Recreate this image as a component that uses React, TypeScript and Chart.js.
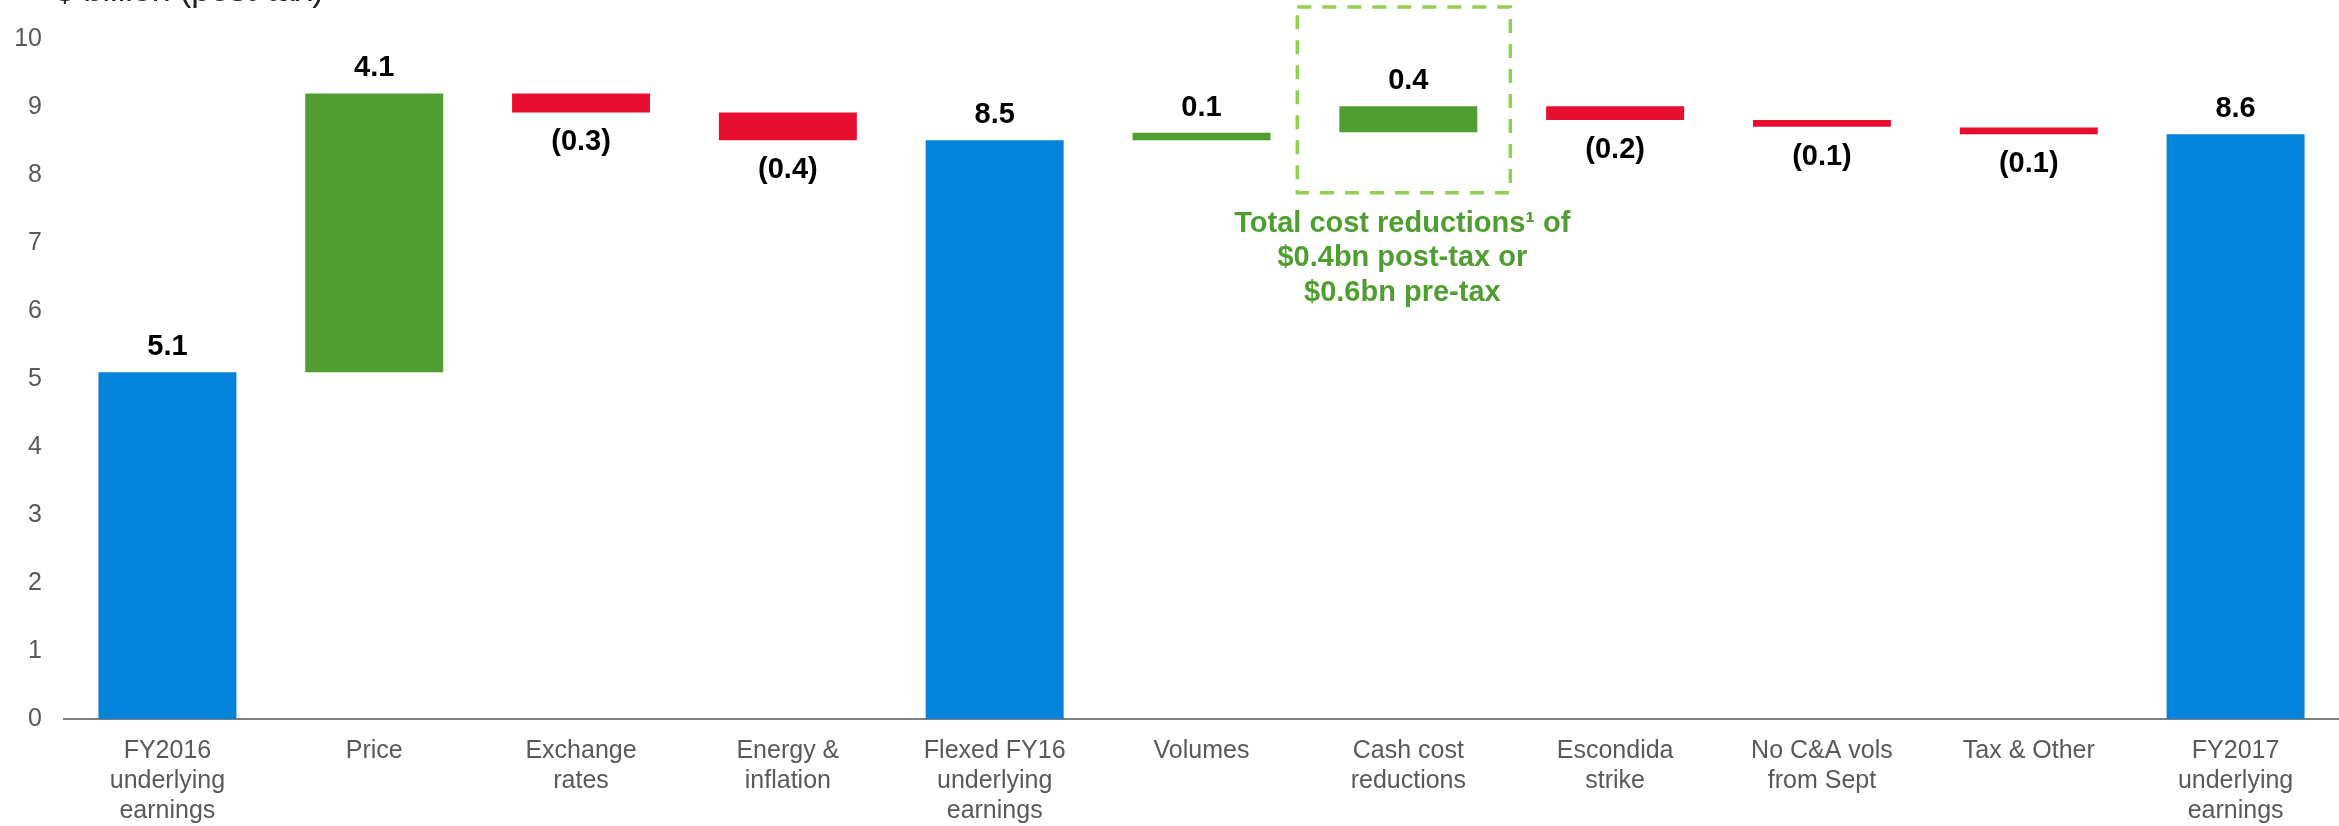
import React, { useEffect, useRef } from "react";
import { Chart, registerables } from "chart.js";

Chart.register(...registerables);

const categories: string[][] = [
  ["FY2016", "underlying", "earnings"],
  ["Price"],
  ["Exchange", "rates"],
  ["Energy &", "inflation"],
  ["Flexed FY16", "underlying", "earnings"],
  ["Volumes"],
  ["Cash cost", "reductions"],
  ["Escondida", "strike"],
  ["No C&A vols", "from Sept"],
  ["Tax & Other"],
  ["FY2017", "underlying", "earnings"],
];

const barFrom = [0, 5.1, 8.92, 8.51, 0, 8.51, 8.63, 8.81, 8.71, 8.6, 0];
const barTo = [5.1, 9.2, 9.2, 8.92, 8.51, 8.62, 9.01, 9.01, 8.81, 8.7, 8.6];
const valueLabels = ["5.1", "4.1", "(0.3)", "(0.4)", "8.5", "0.1", "0.4", "(0.2)", "(0.1)", "(0.1)", "8.6"];
const barKinds = ["total", "up", "down", "down", "total", "up", "up", "down", "down", "down", "total"];

const yMin = 0;
const yMax = 10;
const yStep = 1;

const titleUnit = "$ billion ";
const titleNote = "(post-tax)";
const annotatedIndex = 6;
const annotationLines = ["Total cost reductions\u00B9 of", "$0.4bn post-tax or", "$0.6bn pre-tax"];

const kindColors: Record<string, string> = {
  total: "#0383DA",
  up: "#509E31",
  down: "#E80E2F",
};

const FONT = "'Liberation Sans', Arial, Helvetica, sans-serif";

const overlayPlugin = {
  id: "overlay",
  afterDatasetsDraw(chart: any) {
    const ctx = chart.ctx;
    const xs = chart.scales.x;
    const ys = chart.scales.y;
    const meta = chart.getDatasetMeta(0);
    ctx.save();
    // value labels
    ctx.font = `bold 29px ${FONT}`;
    ctx.fillStyle = "#000000";
    ctx.textAlign = "center";
    ctx.textBaseline = "middle";
    meta.data.forEach((el: any, i: number) => {
      const hi = Math.max(barFrom[i], barTo[i]);
      const lo = Math.min(barFrom[i], barTo[i]);
      if (barKinds[i] === "down") {
        ctx.fillText(valueLabels[i], el.x, ys.getPixelForValue(lo) + 30);
      } else {
        ctx.fillText(valueLabels[i], el.x, ys.getPixelForValue(hi) - 25);
      }
    });

    // dashed annotation box
    const cx = xs.getPixelForValue(annotatedIndex);
    const left = cx - 111;
    const right = cx + 102;
    const top = ys.getPixelForValue(10.47);
    const bottom = ys.getPixelForValue(7.74);
    ctx.strokeStyle = "#92D050";
    ctx.lineWidth = 3.5;
    ctx.setLineDash([14, 11]);
    ctx.strokeRect(left, top, right - left, bottom - top);
    ctx.setLineDash([]);

    // annotation text
    ctx.fillStyle = "#509E31";
    ctx.font = `bold 29px ${FONT}`;
    annotationLines.forEach((line, k) => {
      ctx.fillText(line, cx - 6, bottom + 31 + k * 34.5);
    });

    // title (cut at the top edge)
    ctx.fillStyle = "#222222";
    ctx.font = `34px ${FONT}`;
    ctx.textAlign = "left";
    ctx.textBaseline = "alphabetic";
    const noteX = 180;
    const unitW = ctx.measureText(titleUnit).width;
    ctx.fillText(titleUnit, noteX - unitW, 1);
    ctx.fillText(titleNote, noteX, 1);
    ctx.restore();
  },
};

export default function App() {
  const canvasRef = useRef<HTMLCanvasElement | null>(null);

  useEffect(() => {
    if (!canvasRef.current) return;
    const chart = new Chart(canvasRef.current, {
      type: "bar",
      data: {
        labels: categories,
        datasets: [
          {
            data: barFrom.map((f, i) => [f, barTo[i]]) as any,
            backgroundColor: barKinds.map((k) => kindColors[k]),
            borderWidth: 0,
            borderSkipped: false,
            barPercentage: 0.667,
            categoryPercentage: 1,
          },
        ],
      },
      options: {
        animation: false,
        responsive: true,
        maintainAspectRatio: false,
        layout: { padding: { top: 39, left: 14, right: 0, bottom: 0 } },
        plugins: {
          legend: { display: false },
          tooltip: { enabled: false },
          title: { display: false },
        },
        scales: {
          x: {
            grid: { display: false, drawTicks: false },
            border: { display: true, color: "#7F7F7F", width: 2 },
            ticks: {
              color: "#595959",
              font: { family: FONT, size: 25, lineHeight: 1.2 },
              padding: 17,
              maxRotation: 0,
              autoSkip: false,
            },
            afterFit: (s: any) => {
              s.height = 107;
            },
          },
          y: {
            min: yMin,
            max: yMax,
            grid: { display: false, drawTicks: false },
            border: { display: false },
            ticks: {
              stepSize: yStep,
              color: "#595959",
              font: { family: FONT, size: 25 },
              padding: 22,
            },
            afterFit: (s: any) => {
              s.width = 50;
            },
          },
        },
      },
      plugins: [overlayPlugin],
    });
    return () => chart.destroy();
  }, []);

  return (
    <div style={{ position: "fixed", left: 0, top: 0, width: 2339, height: 826, background: "#ffffff" }}>
      <canvas ref={canvasRef} />
    </div>
  );
}
